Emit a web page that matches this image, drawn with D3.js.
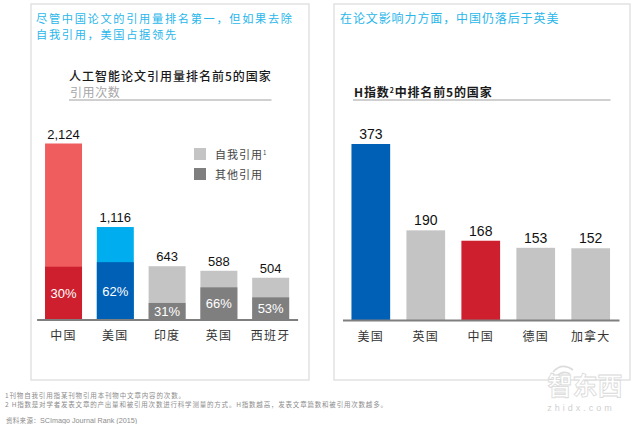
<!DOCTYPE html>
<html>
<head>
<meta charset="utf-8">
<script src="https://cdn.jsdelivr.net/npm/d3@7"></script>
<style>
  html, body { margin: 0; padding: 0; background: #fff; }
  svg { display: block; }
  text { font-family: "Liberation Sans", "Noto Sans CJK SC", sans-serif; }
  .cjk { font-family: "Noto Sans CJK SC", sans-serif; }
</style>
</head>
<body>
<svg id="chart" width="640" height="424"></svg>
<script>
// citations by country
const citeCountries = ['中国', '美国', '印度', '英国', '西班牙'];
const citeTotals = [2124, 1116, 643, 588, 504];
const citeOtherShare = [30, 62, 31, 66, 53];
const citeLight = ['#f05d5e', '#00aeef', '#c4c4c4', '#c4c4c4', '#c4c4c4'];
const citeDark = ['#cd1f2e', '#0060b6', '#7f7f7f', '#7f7f7f', '#7f7f7f'];

// h-index by country
const hCountries = ['美国', '英国', '中国', '德国', '加拿大'];
const hValues = [373, 190, 168, 153, 152];
const hColors = ['#0060b6', '#c4c4c4', '#cd1f2e', '#c4c4c4', '#c4c4c4'];

const headlineLeft = ['尽管中国论文的引用量排名第一，但如果去除', '自我引用，美国占据领先'];
const headlineRight = '在论文影响力方面，中国仍落后于英美';
const legendLabels = ['自我引用', '其他引用'];
const legendColors = ['#c4c4c4', '#7f7f7f'];
const notes = [
    '1刊物自我引用指某刊物引用本刊物中文章内容的次数。',
    '2 H指数是对学者发表文章的产出量和被引用次数进行科学测量的方式。H指数越高，发表文章篇数和被引用次数越多。'
];

const svg = d3.select('#chart');

function addText(x, y, str, opts = {}) {
    return svg.append('text')
        .attr('class', opts.cjk === false ? null : 'cjk')
        .attr('x', x).attr('y', y)
        .attr('text-anchor', opts.anchor || 'start')
        .attr('font-size', opts.size || 12)
        .attr('font-weight', opts.weight || 400)
        .attr('letter-spacing', opts.spacing || 0)
        .attr('fill', opts.fill || '#222')
        .text(str);
}

// panels
[[31, 4, 278, 376], [334, 4, 296, 376]].forEach(([x, y, w, h]) => {
    svg.append('rect')
        .attr('x', x).attr('y', y).attr('width', w).attr('height', h)
        .attr('fill', '#fff').attr('stroke', '#e2e2e2').attr('stroke-width', 1.5);
});

// headlines
headlineLeft.forEach((line, i) => {
    addText(36, 22.5 + i * 16.4, line, { size: 11.2, spacing: 1.7, fill: '#29b6ea' });
});
addText(340, 23, headlineRight, { size: 12, spacing: 0.9, fill: '#29b6ea' });

// chart titles
addText(69, 81, '人工智能论文引用量排名前5的国家', { size: 12, spacing: 1.0, weight: 500, fill: '#1a1a1a' });
addText(70, 97, '引用次数', { size: 12, spacing: 0.6, fill: '#a6a6a6' });
svg.append('line').attr('x1', 69).attr('x2', 271.5).attr('y1', 100).attr('y2', 100)
    .attr('stroke', '#a0a0a0').attr('stroke-width', 1);

const hTitle = addText(354, 97, 'H', { size: 12, weight: 700, spacing: 0.85, fill: '#1a1a1a' });
hTitle.append('tspan').text('指数');
hTitle.append('tspan').attr('font-size', 7).attr('dy', -4).text('2');
hTitle.append('tspan').attr('dy', 4).text('中排名前5的国家');
svg.append('line').attr('x1', 353).attr('x2', 610.5).attr('y1', 100).attr('y2', 100)
    .attr('stroke', '#a0a0a0').attr('stroke-width', 1);

// left chart
const yCite = d3.scaleLinear().domain([0, 2124]).range([319.5, 143.5]);
const xCite = d3.scaleBand().domain(citeCountries).range([36.6, 297.6])
    .paddingInner(0.286).paddingOuter(0.163);

const citeRows = citeCountries.map((c, i) => ({
    country: c,
    total: citeTotals[i],
    other: citeTotals[i] * citeOtherShare[i] / 100,
    share: citeOtherShare[i],
    light: citeLight[i],
    dark: citeDark[i]
}));

svg.selectAll('.cite-total').data(citeRows).enter().append('rect')
    .attr('class', 'cite-total')
    .attr('x', d => xCite(d.country)).attr('width', xCite.bandwidth())
    .attr('y', d => yCite(d.total)).attr('height', d => yCite(0) - yCite(d.total))
    .attr('fill', d => d.light);

svg.selectAll('.cite-other').data(citeRows).enter().append('rect')
    .attr('class', 'cite-other')
    .attr('x', d => xCite(d.country)).attr('width', xCite.bandwidth())
    .attr('y', d => yCite(d.other)).attr('height', d => yCite(0) - yCite(d.other))
    .attr('fill', d => d.dark);

svg.selectAll('.cite-share').data(citeRows).enter().append('text')
    .attr('x', d => xCite(d.country) + xCite.bandwidth() / 2)
    .attr('y', d => (yCite(d.other) + yCite(0)) / 2 + 4.8)
    .attr('text-anchor', 'middle').attr('font-size', 13).attr('fill', '#fff')
    .text(d => d.share + '%');

svg.selectAll('.cite-label').data(citeRows).enter().append('text')
    .attr('x', d => xCite(d.country) + xCite.bandwidth() / 2)
    .attr('y', d => yCite(d.total) - 5)
    .attr('text-anchor', 'middle').attr('font-size', 13).attr('fill', '#111')
    .text(d => d3.format(',')(d.total));

const axisCite = svg.append('g').attr('transform', 'translate(0,319.5)')
    .call(d3.axisBottom(xCite).tickSize(0).tickPadding(12));
axisCite.select('.domain').attr('stroke', '#7f7f7f').attr('stroke-width', 2);
axisCite.selectAll('text').attr('class', 'cjk').attr('font-size', 12).attr('letter-spacing', 1.2).attr('fill', '#333');

// legend
legendLabels.forEach((label, i) => {
    svg.append('rect').attr('x', 194).attr('y', 148 + i * 20).attr('width', 12).attr('height', 12)
        .attr('fill', legendColors[i]);
    const t = addText(215, 159 + i * 20, label, { size: 11, spacing: 1, fill: '#444' });
    if (i === 0) t.append('tspan').attr('font-size', 6).attr('dy', -4).text('1');
});

// right chart
const yH = d3.scaleLinear().domain([0, 373]).range([320, 144]);
const xH = d3.scaleBand().domain(hCountries).range([342.5, 619])
    .paddingInner(0.296).paddingOuter(0.163);

svg.selectAll('.h-bar').data(hValues).enter().append('rect')
    .attr('class', 'h-bar')
    .attr('x', (d, i) => xH(hCountries[i])).attr('width', xH.bandwidth())
    .attr('y', d => yH(d)).attr('height', d => yH(0) - yH(d))
    .attr('fill', (d, i) => hColors[i]);

svg.selectAll('.h-label').data(hValues).enter().append('text')
    .attr('x', (d, i) => xH(hCountries[i]) + xH.bandwidth() / 2)
    .attr('y', d => yH(d) - 5)
    .attr('text-anchor', 'middle').attr('font-size', 14).attr('fill', '#111')
    .text(d => d);

const axisH = svg.append('g').attr('transform', 'translate(0,320)')
    .call(d3.axisBottom(xH).tickSize(0).tickPadding(12));
axisH.select('.domain').attr('stroke', '#7f7f7f').attr('stroke-width', 2);
axisH.selectAll('text').attr('class', 'cjk').attr('font-size', 12).attr('letter-spacing', 1.2).attr('fill', '#333');

// footnotes
addText(5, 398, notes[0], { size: 6.5, spacing: 0.85, fill: '#8c8c8c' });
addText(5, 407, notes[1], { size: 6.5, spacing: 0.8, fill: '#8c8c8c' });
const source = addText(6, 423, '资料来源：', { size: 6.5, spacing: 0.3, fill: '#8c8c8c' });
source.append('tspan').attr('font-family', 'Liberation Sans').attr('font-size', 7.2).attr('letter-spacing', 0).text('SCImago Journal Rank (2015)');

// watermark
svg.append('path').attr('d', 'M553 372Q562 362 573 370M557 376Q563 370 570 374')
    .attr('fill', 'none').attr('stroke', '#dcdcdc').attr('stroke-width', 1.6);
addText(585, 395, '智东西', { size: 25, weight: 700, anchor: 'middle', fill: '#fff' })
    .attr('stroke', '#d9d9d9').attr('stroke-width', 0.8);
addText(581, 411, 'zhidx.com', { size: 9, anchor: 'middle', spacing: 3, fill: '#d0d0d0', cjk: false });
</script>
</body>
</html>
